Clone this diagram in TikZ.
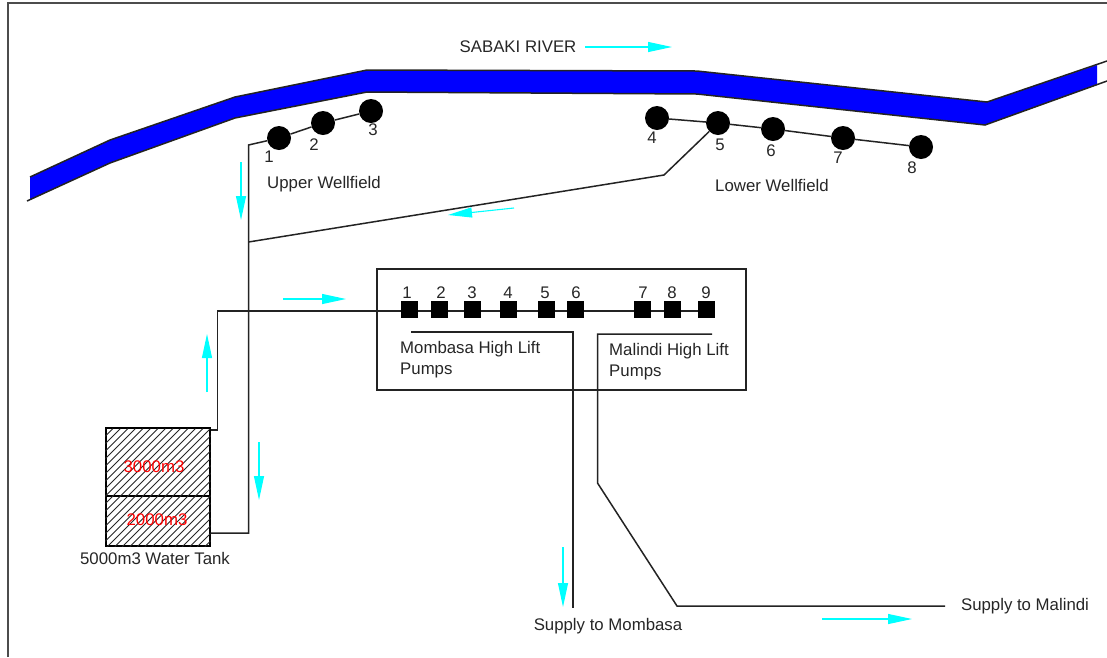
\documentclass[tikz,border=0pt]{standalone}
\usepackage{fontspec}
\setmainfont{Liberation Sans}
\usetikzlibrary{arrows.meta}
\definecolor{riverblue}{RGB}{0,0,255}
\definecolor{flowcyan}{RGB}{0,255,255}
\definecolor{lineblack}{RGB}{35,35,35}
\begin{document}
\begin{tikzpicture}
        [x=1pt,y=-1pt,line join=miter,
        every node/.style={font=\fontsize{16.8}{21}\selectfont,text=black!85,inner sep=0},
        pipe/.style={draw=lineblack,line width=1.5pt},
        well/.style={draw=none,shape=circle,fill=black,minimum size=24pt},
        pump/.style={draw=none,shape=rectangle,fill=black,minimum size=17pt},
        flow/.style={draw=flowcyan,line width=1.1pt,-{Triangle[length=24pt,width=10pt]}},
        tank/.style={draw=black,line width=1.4pt},
        hatch/.style={draw=black!85,line width=0.85pt},
        volume/.style={text=red}]

        \useasboundingbox (0,0) rectangle (1107,657);

        % frame
        \draw[draw=black!70,line width=1.6pt] (8,657) -- (8,3) -- (1107,3);

        % river
        \fill[riverblue] (30,177) -- (110,140) -- (235,97) -- (367,70) -- (697,71) -- (987,102) -- (1097,65)
          -- (1097,85) -- (985,125) -- (697,94) -- (367,92) -- (235,118) -- (110,163) -- (30,200) -- cycle;
        \draw[pipe] (30,177) -- (110,140) -- (235,97) -- (367,70) -- (697,71) -- (987,102) -- (1107,61);
        \draw[pipe] (27,201) -- (110,163) -- (235,118) -- (367,92) -- (697,94) -- (985,125) -- (1107,81);
        \node (river) at (518,47) {SABAKI RIVER};

        % wells
        \node[well] (w1) at (279,138) {};
        \node[well] (w2) at (323,123) {};
        \node[well] (w3) at (371,111) {};
        \node[well] (w4) at (657,118) {};
        \node[well] (w5) at (718,123) {};
        \node[well] (w6) at (773,129) {};
        \node[well] (w7) at (843,138) {};
        \node[well] (w8) at (921,147) {};

        \node (l1) at (269,157) {1};
        \node (l2) at (314,145) {2};
        \node (l3) at (373,130) {3};
        \node (l4) at (652,138) {4};
        \node (l5) at (720,145) {5};
        \node (l6) at (771,151) {6};
        \node (l7) at (838,158) {7};
        \node (l8) at (912,168) {8};
        \node (upper) at (324,184) {Upper Wellfield};
        \node (lower) at (772,185) {Lower Wellfield};

        % pump house
        \node[draw=lineblack,line width=1.5pt,shape=rectangle,minimum width=369pt,minimum height=121pt] (house) at (561.5,329.5) {};

        \node (n1) at (407,293) {1};
        \node (n2) at (441,293) {2};
        \node (n3) at (472,293) {3};
        \node (n4) at (508,293) {4};
        \node (n5) at (545,293) {5};
        \node (n6) at (576,293) {6};
        \node (n7) at (643,293) {7};
        \node (n8) at (672,293) {8};
        \node (n9) at (706,293) {9};

        \node[align=left,anchor=north west] (mombasa) at (400,341) {Mombasa High Lift\\Pumps};
        \node[align=left,anchor=north west] (malindi) at (609,343) {Malindi High Lift\\Pumps};

        % tank
        \node[tank,minimum width=104pt,minimum height=68pt] (t3000) at (158,462) {};
        \node[tank,minimum width=104pt,minimum height=50pt] (t2000) at (158,521) {};
        \begin{scope}
        \clip (t3000.north west) rectangle (t2000.south east);
        \foreach \d in {-118,-110.5,...,104}
          \draw[hatch] ([xshift=\d pt]t2000.south west) -- ++(118,-118);
        \end{scope}
        \node[volume] (v3000) at (154,467) {3000m3};
        \node[volume] (v2000) at (157,520) {2000m3};
        \node (tankname) at (155,558) {5000m3 Water Tank};

        % ends and bends of the pipes
        \coordinate (c1) at (248.5,145);
        \coordinate (c2) at (248.5,242);
        \coordinate (c3) at (248.5,533);
        \coordinate (c4) at (664,175);
        \coordinate (c5) at (217.5,430);
        \coordinate (c6) at (217.5,311);
        \coordinate (c7) at (411,332);
        \coordinate (c8) at (573.2,332);
        \coordinate (c9) at (712,334);
        \coordinate (c10) at (597.5,334);
        \coordinate (c11) at (597.5,483);
        \coordinate (c12) at (677,606);
        \coordinate (c13) at (945,606);
        \coordinate (c14) at (573.2,608);
        \coordinate (c15) at (706,311);

        \node (tomombasa) at (608,626) {Supply to Mombasa};
        \node (tomalindi) at (1025,606) {Supply to Malindi};

        \draw[pipe] (w3) -- (w2);
        \draw[pipe] (w2) -- (w1);
        \draw[pipe] (w1) -- (c1) -- (c3) -- (c3 -| t2000.east);
        \draw[pipe] (c2) -- (c4) -- (w5);
        \draw[pipe] (w4) -- (w5);
        \draw[pipe] (w5) -- (w6);
        \draw[pipe] (w6) -- (w7);
        \draw[pipe] (w7) -- (w8);
        \draw[pipe] (c5 -| t3000.east) -- (c5) -- (c6) -- (c15);
        \draw[pipe] (c7) -- (c8) -- (c14);
        \draw[pipe] (c9) -- (c10) -- (c11) -- (c12) -- (c13);

        % pumps sit on top of their pipe
        \node[pump] (p1) at (409,309) {};
        \node[pump] (p2) at (439,309) {};
        \node[pump] (p3) at (472,309) {};
        \node[pump] (p4) at (508,309) {};
        \node[pump] (p5) at (546,309) {};
        \node[pump] (p6) at (575,309) {};
        \node[pump] (p7) at (642,309) {};
        \node[pump] (p8) at (672,309) {};
        \node[pump] (p9) at (706,309) {};

        % flow arrows
        \coordinate (f1a) at (585,47);
        \coordinate (f1b) at (672,47);
        \coordinate (f2a) at (241,162);
        \coordinate (f2b) at (241,220);
        \coordinate (f3a) at (514,208);
        \coordinate (f3b) at (448,215);
        \coordinate (f4a) at (283,299);
        \coordinate (f4b) at (346,299);
        \coordinate (f5a) at (207,392);
        \coordinate (f5b) at (207,334);
        \coordinate (f6a) at (259,442);
        \coordinate (f6b) at (259,500);
        \coordinate (f7a) at (563,547);
        \coordinate (f7b) at (563,607);
        \coordinate (f8a) at (822,619);
        \coordinate (f8b) at (912,619);

        \draw[flow] (f1a) -- (f1b);
        \draw[flow] (f2a) -- (f2b);
        \draw[flow] (f3a) -- (f3b);
        \draw[flow] (f4a) -- (f4b);
        \draw[flow] (f5a) -- (f5b);
        \draw[flow] (f6a) -- (f6b);
        \draw[flow] (f7a) -- (f7b);
        \draw[flow] (f8a) -- (f8b);
\end{tikzpicture}
\end{document}
